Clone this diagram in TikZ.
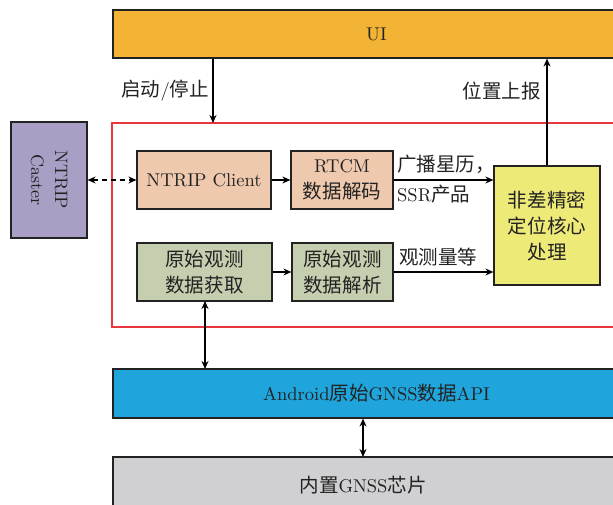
\documentclass[tikz,border=0pt]{standalone}
\usepackage{fontspec}
% 10pt optical design of Latin Modern, used at display size for a heavier stroke
\setmainfont{lmroman10-regular.otf}[BoldFont=lmroman10-bold.otf]
\newfontfamily\cjk[Scale=1.055]{Noto Sans CJK SC}
\usetikzlibrary{arrows.meta}

\definecolor{uiorange}{HTML}{F3B334}
\definecolor{casterpurple}{HTML}{A99FC4}
\definecolor{clientpeach}{HTML}{EFC9AE}
\definecolor{obsgreen}{HTML}{C5CFB0}
\definecolor{coreyellow}{HTML}{EEEA77}
\definecolor{apiblue}{HTML}{1FA5DC}
\definecolor{chipgray}{HTML}{D0D0D2}
\definecolor{framered}{HTML}{E8383D}
\definecolor{ink}{HTML}{222222}

\tikzset{
  blk/.style={draw=ink, line width=1.2pt, rectangle, inner sep=0pt,
    text=ink, align=center, font=\fontsize{18.5}{26}\selectfont},
  lbl/.style={text=ink, inner sep=0pt, font=\fontsize{18.5}{26}\selectfont},
  conn/.style={draw=black, line width=1.2pt, -{Stealth[length=8pt,width=7pt]}},
  biconn/.style={draw=black, line width=1.2pt, {Stealth[length=8pt,width=7pt]}-{Stealth[length=8pt,width=7pt]}},
}

\begin{document}
\begin{tikzpicture}[x=1pt, y=-1pt]
\useasboundingbox (0,0) rectangle (613,505);
\clip (0,0) rectangle (613,505);

% top and bottom layers (run past the right edge)
\node[blk, fill=uiorange, minimum width=527pt, minimum height=48pt] (ui) at (376.5,34) {UI};
\node[blk, fill=apiblue, minimum width=527pt, minimum height=49pt] (api) at (376.5,393.5)
  {Android{\cjk 原始}GNSS{\cjk 数据}API};
\node[blk, fill=chipgray, minimum width=527pt, minimum height=60pt] (chip) at (376.5,487)
  {};
\node[lbl] at (363,485) {{\cjk 内置}GNSS{\cjk 芯片}};
\coordinate (chiptop) at (363,457);

% application frame
\draw[framered, line width=1.6pt] (112,123) rectangle (640,327);
\coordinate (frametop) at (213,123);

% caster
\node[blk, fill=casterpurple, minimum width=76pt, minimum height=116pt] (caster) at (49,180) {};
\node[lbl, rotate=-90, align=center, font=\fontsize{18}{24}\selectfont] at (49,180) {NTRIP\\Caster};

% processing blocks
\node[blk, fill=clientpeach, minimum width=134pt, minimum height=58pt] (client) at (204,180) {NTRIP Client};
\node[blk, fill=clientpeach, minimum width=102pt, minimum height=58pt] (rtcm) at (342,180) {RTCM\\{\cjk 数据解码}};
\node[blk, fill=obsgreen, minimum width=135pt, minimum height=58pt] (acq) at (204.5,272) {{\cjk 原始观测}\\{\cjk 数据获取}};
\node[blk, fill=obsgreen, minimum width=101pt, minimum height=58pt] (parse) at (342.5,272) {{\cjk 原始观测}\\{\cjk 数据解析}};
\node[blk, fill=coreyellow, minimum width=106pt, minimum height=119pt] (core) at (547,225.5)
  {{\cjk 非差精密}\\{\cjk 定位核心}\\{\cjk 处理}};

% connectors
\draw[conn] (ui.south -| frametop) -- (frametop);
\node[lbl, anchor=east] at (209,91) {{\cjk 启动}/{\cjk 停止}};
\draw[conn] (core.north) -- (core.north |- ui.south);
\node[lbl, anchor=east] at (541,91) {{\cjk 位置上报}};

\draw[biconn, dashed, dash pattern=on 5pt off 4pt] (caster.east) -- (client.west);
\draw[conn] (client.east) -- (rtcm.west);
\draw[conn] (rtcm.east) -- (rtcm.east -| core.west);
\node[lbl, anchor=west] at (397,164) {{\cjk 广播星历，}};
\node[lbl, anchor=west] at (397,194) {SSR{\cjk 产品}};

\draw[conn] (acq.east) -- (parse.west);
\draw[conn] (parse.east) -- (parse.east -| core.west);
\node[lbl, anchor=west] at (399,257) {{\cjk 观测量等}};

\draw[biconn] (205,301) -- (205,369);
\draw[biconn] (api.south -| chiptop) -- (chiptop);
\end{tikzpicture}
\end{document}
